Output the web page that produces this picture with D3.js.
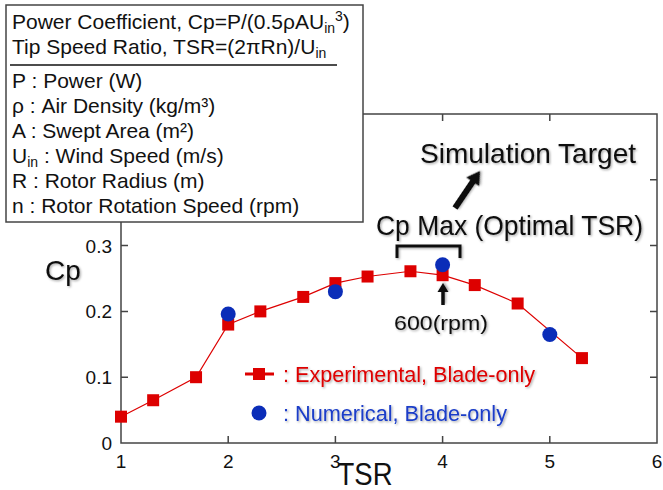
<!DOCTYPE html>
<html lang="en">
<head>
    <meta charset="UTF-8">
    <title>Cp vs TSR</title>
    <style>
        body { margin: 0; background: #fff; }
        svg { display: block; font-family: "Liberation Sans", Arial, sans-serif; }
    </style>
</head>
<body>
    <svg id="chart" width="663" height="490"></svg>

    <script src="https://d3js.org/d3.v7.min.js"></script>

    <script>
// Experimental data (red squares)
const tsrExp = [1, 1.3, 1.7, 2, 2.3, 2.7, 3, 3.3, 3.7, 4, 4.3, 4.7, 5.3];
const cpExp = [0.04, 0.065, 0.1, 0.18, 0.2, 0.222, 0.243, 0.253, 0.261, 0.255, 0.24, 0.212, 0.129];

// Numerical data (blue circles)
const tsrNum = [2, 3, 4, 5];
const cpNum = [0.196, 0.23, 0.271, 0.165];

const xTicks = [1, 2, 3, 4, 5, 6];
const yTicks = [0, 0.1, 0.2, 0.3, 0.4, 0.5];
const yTickLabels = ["0", "0.1", "0.2", "0.3", "", ""];

const boxLines = [
    "P : Power (W)",
    "ρ : Air Density (kg/m³)",
    "A : Swept Area (m²)",
    "U_in : Wind Speed (m/s)",
    "R : Rotor Radius (m)",
    "n : Rotor Rotation Speed (rpm)"
];

const red = "#dd0000";
const blue = "#0b2db8";
const axisColor = "#444";

const svg = d3.select("#chart");

// soft drop shadow used by the annotation texts
const defs = svg.append("defs");
defs.append("filter")
    .attr("id", "shadow")
    .attr("x", "-10%").attr("y", "-20%")
    .attr("width", "130%").attr("height", "160%")
    .append("feDropShadow")
    .attr("dx", 1.2).attr("dy", 1.2)
    .attr("stdDeviation", 0.9)
    .attr("flood-color", "#000")
    .attr("flood-opacity", 0.35);

const x = d3.scaleLinear().domain([1, 6]).range([121, 657]);
const y = d3.scaleLinear().domain([0, 0.5]).range([443, 114]);

// frame
const frame = svg.append("g");
frame.append("rect")
    .attr("x", x(1)).attr("y", y(0.5))
    .attr("width", x(6) - x(1)).attr("height", y(0) - y(0.5))
    .attr("fill", "none")
    .attr("stroke", axisColor)
    .attr("stroke-width", 1.5);

// inward ticks on all four sides
const tickLen = 7;
frame.selectAll(".xt")
    .data(xTicks.slice(1, -1))
    .enter()
    .append("path")
    .attr("d", d => `M${x(d)},${y(0)}v${-tickLen}M${x(d)},${y(0.5)}v${tickLen}`)
    .attr("stroke", axisColor)
    .attr("stroke-width", 1.5);

frame.selectAll(".yt")
    .data(yTicks.slice(1, -1))
    .enter()
    .append("path")
    .attr("d", d => `M${x(1)},${y(d)}h${tickLen}M${x(6)},${y(d)}h${-tickLen}`)
    .attr("stroke", axisColor)
    .attr("stroke-width", 1.5);

// tick labels
svg.selectAll(".xl")
    .data(xTicks)
    .enter()
    .append("text")
    .attr("x", d => x(d))
    .attr("y", 468)
    .attr("text-anchor", "middle")
    .attr("font-size", 19)
    .attr("fill", "#111")
    .text(d => d);

svg.selectAll(".yl")
    .data(yTicks)
    .enter()
    .append("text")
    .attr("x", 112)
    .attr("y", d => y(d) + 7)
    .attr("text-anchor", "end")
    .attr("font-size", 19)
    .attr("fill", "#111")
    .text((d, i) => yTickLabels[i]);

// axis titles
svg.append("text")
    .attr("x", 63).attr("y", 280)
    .attr("text-anchor", "middle")
    .attr("font-size", 28)
    .attr("fill", "#111")
    .attr("filter", "url(#shadow)")
    .text("Cp");

svg.append("text")
    .attr("x", 365).attr("y", 485)
    .attr("text-anchor", "middle")
    .attr("font-size", 31)
    .attr("fill", "#111")
    .attr("textLength", 55)
    .attr("lengthAdjust", "spacingAndGlyphs")
    .text("TSR");

// experimental line + squares
const expData = tsrExp.map((t, i) => [t, cpExp[i]]);
const line = d3.line().x(d => x(d[0])).y(d => y(d[1]));

svg.append("path")
    .datum(expData)
    .attr("d", line)
    .attr("fill", "none")
    .attr("stroke", red)
    .attr("stroke-width", 1.2);

const sq = 12;
svg.selectAll(".sq")
    .data(expData)
    .enter()
    .append("rect")
    .attr("x", d => x(d[0]) - sq / 2)
    .attr("y", d => y(d[1]) - sq / 2)
    .attr("width", sq).attr("height", sq)
    .attr("fill", red);

// numerical circles
svg.selectAll(".dot")
    .data(tsrNum.map((t, i) => [t, cpNum[i]]))
    .enter()
    .append("circle")
    .attr("cx", d => x(d[0]))
    .attr("cy", d => y(d[1]))
    .attr("r", 7.5)
    .attr("fill", blue);

// legend
const leg = svg.append("g");
leg.append("line")
    .attr("x1", 245).attr("x2", 274)
    .attr("y1", 374).attr("y2", 374)
    .attr("stroke", red).attr("stroke-width", 3);
leg.append("rect")
    .attr("x", 259 - sq / 2).attr("y", 374 - sq / 2)
    .attr("width", sq).attr("height", sq)
    .attr("fill", red);
leg.append("text")
    .attr("x", 283).attr("y", 382)
    .attr("font-size", 22)
    .attr("fill", red)
    .attr("textLength", 252)
    .attr("lengthAdjust", "spacingAndGlyphs")
    .attr("filter", "url(#shadow)")
    .text(": Experimental, Blade-only");
leg.append("circle")
    .attr("cx", 259).attr("cy", 413).attr("r", 7.5)
    .attr("fill", blue);
leg.append("text")
    .attr("x", 283).attr("y", 421)
    .attr("font-size", 22)
    .attr("fill", "#1a3cc8")
    .attr("textLength", 224)
    .attr("lengthAdjust", "spacingAndGlyphs")
    .attr("filter", "url(#shadow)")
    .text(": Numerical, Blade-only");

// annotations
const ann = svg.append("g").attr("fill", "#111");
ann.append("text")
    .attr("x", 420).attr("y", 163)
    .attr("font-size", 28)
    .attr("textLength", 216)
    .attr("lengthAdjust", "spacingAndGlyphs")
    .attr("filter", "url(#shadow)")
    .text("Simulation Target");
ann.append("text")
    .attr("x", 376).attr("y", 235)
    .attr("font-size", 28)
    .attr("textLength", 267)
    .attr("lengthAdjust", "spacingAndGlyphs")
    .attr("filter", "url(#shadow)")
    .text("Cp Max (Optimal TSR)");
ann.append("text")
    .attr("x", 394).attr("y", 330)
    .attr("font-size", 20)
    .attr("textLength", 94)
    .attr("lengthAdjust", "spacingAndGlyphs")
    .attr("filter", "url(#shadow)")
    .text("600(rpm)");

// filled arrow from (x1,y1) to the tip (x2,y2)
function arrow(g, x1, y1, x2, y2, w, head) {
    const ang = Math.atan2(y2 - y1, x2 - x1);
    const len = Math.hypot(x2 - x1, y2 - y1);
    const a = g.append("g")
        .attr("transform", `translate(${x1},${y1}) rotate(${ang * 180 / Math.PI})`)
        .attr("filter", "url(#shadow)");
    a.append("path")
        .attr("d", `M0,${-w / 2}L${len - head},${-w / 2}L${len - head},${-head * 0.6}L${len},0L${len - head},${head * 0.6}L${len - head},${w / 2}L0,${w / 2}Z`)
        .attr("fill", "#111");
}
arrow(svg, 455, 208, 480, 171, 6, 13);
arrow(svg, 443, 305, 443, 283, 3.5, 9);

// bracket
svg.append("path")
    .attr("d", "M397,258V246H460V258")
    .attr("fill", "none")
    .attr("stroke", "#111")
    .attr("stroke-width", 3)
    .attr("filter", "url(#shadow)");

// definitions box (drawn on top of the plot frame)
const box = svg.append("g");
box.append("rect")
    .attr("x", 6).attr("y", 5)
    .attr("width", 357).attr("height", 217)
    .attr("fill", "#fff")
    .attr("stroke", axisColor)
    .attr("stroke-width", 1.5);

const fs = 21, sub = 14;
const t1 = box.append("text").attr("x", 12).attr("y", 29).attr("font-size", fs).attr("fill", "#111");
t1.append("tspan").text("Power Coefficient, Cp=P/(0.5ρAU");
t1.append("tspan").attr("dy", 4).attr("font-size", sub).text("in");
t1.append("tspan").attr("dy", -12).attr("font-size", sub).text("3");
t1.append("tspan").attr("dy", 8).text(")");

const t2 = box.append("text").attr("x", 12).attr("y", 54).attr("font-size", fs).attr("fill", "#111");
t2.append("tspan").text("Tip Speed Ratio, TSR=(2πRn)/U");
t2.append("tspan").attr("dy", 4).attr("font-size", sub).text("in");

box.append("line")
    .attr("x1", 10).attr("x2", 337)
    .attr("y1", 65).attr("y2", 65)
    .attr("stroke", "#111").attr("stroke-width", 1.5);

box.selectAll(".def")
    .data(boxLines)
    .enter()
    .append("text")
    .attr("x", 12)
    .attr("y", (d, i) => 88 + i * 25)
    .attr("font-size", fs)
    .attr("fill", "#111")
    .each(function (d) {
        const t = d3.select(this);
        if (d.startsWith("U_in")) {
            t.append("tspan").text("U");
            t.append("tspan").attr("dy", 4).attr("font-size", sub).text("in");
            t.append("tspan").attr("dy", -4).text(d.slice(4));
        } else {
            t.text(d);
        }
    });
    </script>
</body>
</html>
